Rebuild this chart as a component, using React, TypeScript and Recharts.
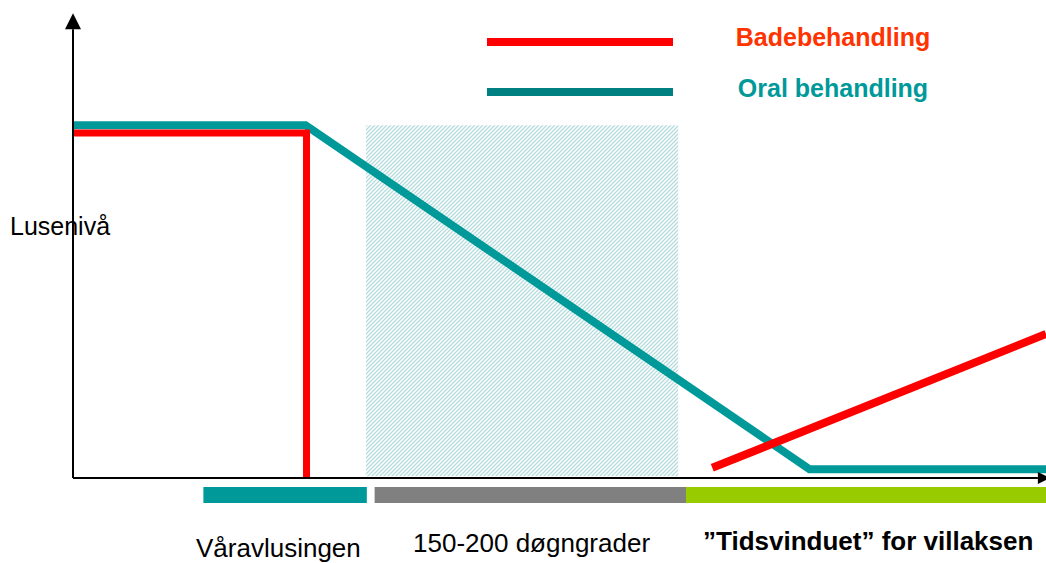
import React from "react";
import { ComposedChart, Line, XAxis, YAxis, ReferenceArea, ReferenceLine } from "recharts";

// schematic units: x = tid (0-100), y = lusenivå (0-100)
const oralSeries = [
  { x: 0, y: 76.2 },
  { x: 23.9, y: 76.2 },
  { x: 75.7, y: 1.9 },
  { x: 100, y: 1.9 },
];
const badPlateau = [
  { x: 0, y: 74.5 },
  { x: 24, y: 74.5 },
  { x: 24, y: 0 },
];
const badRise = [
  { x: 65.7, y: 2.2 },
  { x: 100, y: 31.1 },
];
const hatchWindow = { x1: 30.1, x2: 62.2, y1: 0.4, y2: 76.2 };
const phaseNames = ["Våravlusingen", "150-200 døgngrader", "\u201DTidsvinduet\u201D for villaksen"];
const phaseStart = [13.4, 31.0, 63.0];
const phaseEnd = [30.2, 63.0, 100];
const seriesNames = ["Badebehandling", "Oral behandling"];

const RED = "#ff0000";
const TEAL = "#009999";
const phaseColors = ["#009999", "#808080", "#99cc00"];
const FONT = "'Liberation Sans', Arial, sans-serif";

const Arrow = (len: number, half: number) => (props: any) => {
  const { x1, y1, x2, y2 } = props;
  const dx = x2 - x1;
  const dy = y2 - y1;
  const d = Math.sqrt(dx * dx + dy * dy) || 1;
  const ux = dx / d;
  const uy = dy / d;
  const bx = x2 - ux * len;
  const by = y2 - uy * len;
  const pts = `${x2},${y2} ${bx - uy * half},${by + ux * half} ${bx + uy * half},${by - ux * half}`;
  return (
    <g>
      <line x1={x1} y1={y1} x2={bx} y2={by} stroke="#000" strokeWidth={2} />
      <polygon points={pts} fill="#000" />
    </g>
  );
};

const labelX = [196, 413, 703];
const labelY = [557, 552, 550];

export default function App() {
  return (
    <div style={{ position: "absolute", left: 0, top: 0, width: 1046, height: 563, background: "#fff" }}>
      <ComposedChart width={1046} height={563} margin={{ top: 15, right: 0, bottom: 85, left: 73 }}>
        <defs>
          <pattern id="hatch" patternUnits="userSpaceOnUse" width={4} height={4}>
            <path d="M-1,1 L1,-1 M0,4 L4,0 M3,5 L5,3" stroke="#b5dcdd" strokeWidth={1.3} />
          </pattern>
        </defs>
        <XAxis type="number" dataKey="x" domain={[0, 100]} hide allowDataOverflow />
        <YAxis type="number" dataKey="y" domain={[0, 100]} hide allowDataOverflow />

        <ReferenceArea {...hatchWindow} fill="url(#hatch)" fillOpacity={1} stroke="none" ifOverflow="visible" />

        {phaseNames.map((n, i) => (
          <ReferenceArea
            key={n}
            x1={phaseStart[i]}
            x2={phaseEnd[i]}
            y1={-1.95}
            y2={-5.4}
            fill={phaseColors[i]}
            fillOpacity={1}
            stroke="none"
            ifOverflow="visible"
          />
        ))}

        <Line data={oralSeries} dataKey="y" type="linear" stroke={TEAL} strokeWidth={8} dot={false} activeDot={false} isAnimationActive={false} name={seriesNames[1]} />
        <Line data={badPlateau} dataKey="y" type="linear" stroke={RED} strokeWidth={7} dot={false} activeDot={false} isAnimationActive={false} name={seriesNames[0]} />
        <Line data={badRise} dataKey="y" type="linear" stroke={RED} strokeWidth={8} dot={false} activeDot={false} isAnimationActive={false} name={seriesNames[0]} />

        <ReferenceLine segment={[{ x: 0, y: 0 }, { x: 0, y: 100.4 }]} ifOverflow="visible" shape={Arrow(16, 8)} />
        <ReferenceLine segment={[{ x: 0, y: 0 }, { x: 100.4, y: 0 }]} ifOverflow="visible" shape={Arrow(12, 6)} />

        {/* legend */}
        <line x1={487} y1={42} x2={673} y2={42} stroke={RED} strokeWidth={8} />
        <text x={833} y={46} textAnchor="middle" fontFamily={FONT} fontWeight="bold" fontSize={25} fill="#ff3300">
          {seriesNames[0]}
        </text>
        <line x1={487} y1={92} x2={673} y2={92} stroke="#008080" strokeWidth={8} />
        <text x={833} y={97} textAnchor="middle" fontFamily={FONT} fontWeight="bold" fontSize={25} fill={TEAL}>
          {seriesNames[1]}
        </text>

        <text x={10} y={235} fontFamily={FONT} fontSize={25} fill="#000">Lusenivå</text>
        {phaseNames.map((n, i) => (
          <text key={n} x={labelX[i]} y={labelY[i]} fontFamily={FONT} fontSize={26} fontWeight={i === 2 ? "bold" : "normal"} fill="#000">
            {n}
          </text>
        ))}
      </ComposedChart>
    </div>
  );
}
